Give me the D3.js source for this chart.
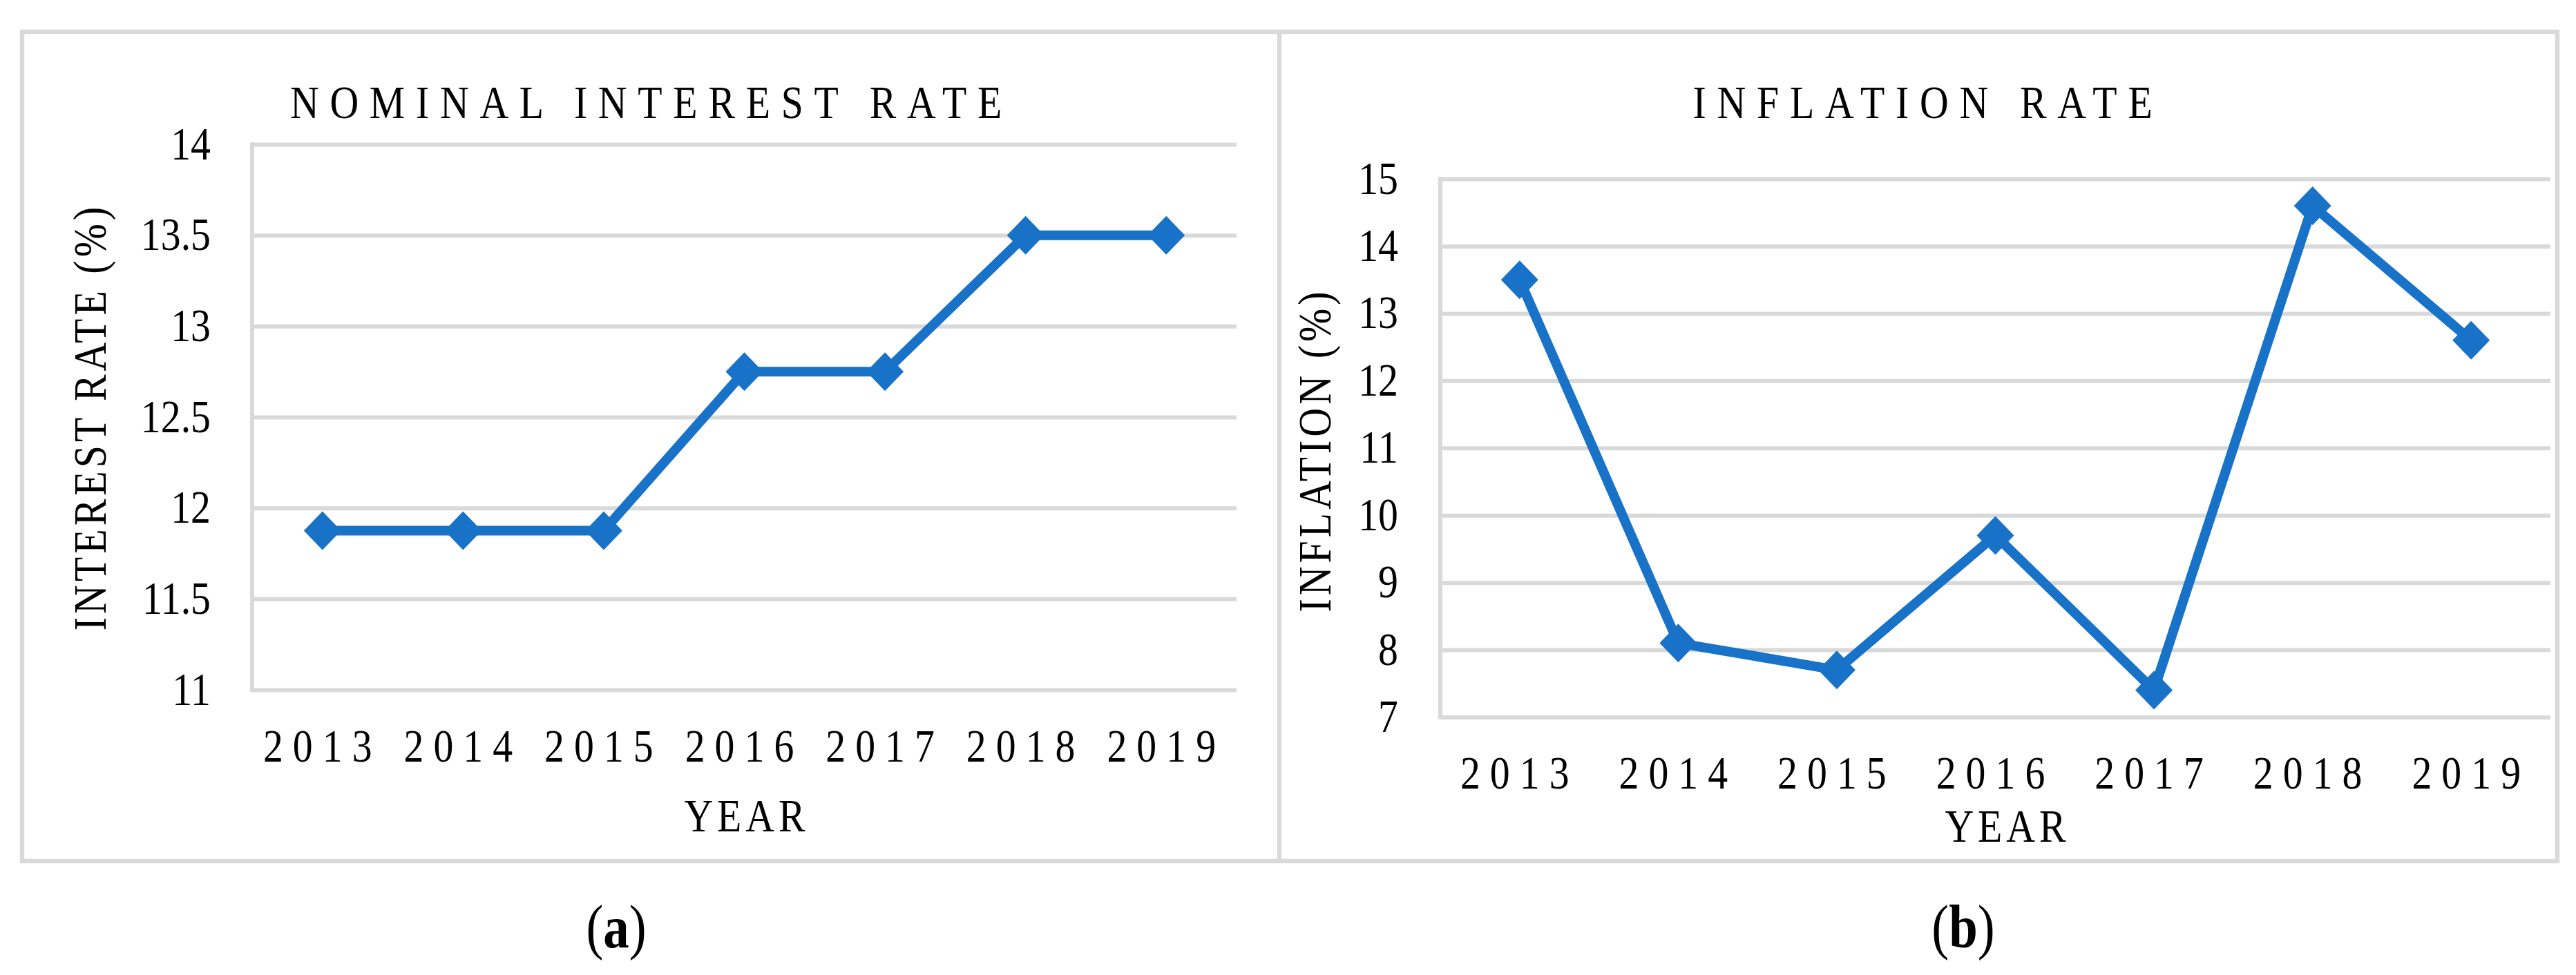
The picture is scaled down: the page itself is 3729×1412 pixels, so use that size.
<!DOCTYPE html>
<html>
<head>
<meta charset="utf-8">
<script src="https://cdn.jsdelivr.net/npm/d3@7"></script>
<style>
  html, body { margin: 0; padding: 0; background: #fff; }
  svg text { font-family: "Liberation Serif", "Times New Roman", serif; fill: #000; }
</style>
</head>
<body>
<div id="chart"></div>
<script>
'use strict';

// data
const years = ["2013", "2014", "2015", "2016", "2017", "2018", "2019"];
const interestRate = [11.875, 11.875, 11.875, 12.75, 12.75, 13.5, 13.5];
const inflationRate = [13.5, 8.1, 7.7, 9.7, 7.4, 14.6, 12.6];
const interestTicks = [11, 11.5, 12, 12.5, 13, 13.5, 14];
const inflationTicks = [7, 8, 9, 10, 11, 12, 13, 14, 15];

const GRID = "#d9d9d9";
const BLUE = "#1873c8";
const SX = 0.85;   // the glyphs in the picture are a bit narrower than Times

class YearLineChart {

    constructor(args) {
        this.svg = args.svg;
        this.categories = args.categories;
        this.values = args.values;
        this.ticks = args.ticks;
        this.box = args.box;
        this.text = args.text;
    }

    draw() {
        const b = this.box, t = this.text;
        this.x = d3.scaleBand().domain(this.categories).range([b.left, b.right]);
        this.y = d3.scaleLinear().domain(d3.extent(this.ticks)).range([b.bottom, b.top]);
        const half = this.x.bandwidth() / 2;

        // gridlines + y tick labels
        const gy = this.svg.append("g")
            .attr("transform", `translate(${b.left},0)`)
            .call(d3.axisLeft(this.y)
                .tickValues(this.ticks)
                .tickSize(-(b.right - b.left))
                .tickPadding(0)
                .tickFormat(d => String(d)));
        gy.select(".domain").remove();
        gy.selectAll(".tick line").attr("stroke", GRID).attr("stroke-width", 6);
        gy.selectAll(".tick text")
            .attr("x", null).attr("dy", null)
            .attr("font-size", 68)
            .attr("text-anchor", "end")
            .attr("transform", `translate(${-t.tickGap},21) scale(${SX},1)`);

        // vertical axis line
        this.svg.append("line")
            .attr("x1", b.left).attr("x2", b.left)
            .attr("y1", b.top - 3).attr("y2", b.bottom + 3)
            .attr("stroke", GRID).attr("stroke-width", 6);

        // year labels
        const gx = this.svg.append("g")
            .attr("transform", `translate(0,${b.bottom})`)
            .call(d3.axisBottom(this.x).tickSize(0));
        gx.select(".domain").remove();
        gx.selectAll(".tick text")
            .attr("y", null).attr("dy", null)
            .attr("font-size", 68)
            .attr("letter-spacing", 16.5)
            .attr("transform", `translate(0,${t.yearDrop}) scale(${SX},1)`);

        // line and markers
        const line = d3.line()
            .x((d, i) => this.x(this.categories[i]) + half)
            .y(d => this.y(d));

        this.svg.append("path")
            .datum(this.values)
            .attr("fill", "none")
            .attr("stroke", BLUE)
            .attr("stroke-width", 14)
            .attr("stroke-linejoin", "round")
            .attr("d", line);

        this.svg.append("g")
            .selectAll("path")
            .data(this.values)
            .join("path")
            .attr("fill", BLUE)
            .attr("d", "M0,-28L27,0L0,28L-27,0Z")
            .attr("transform", (d, i) => `translate(${this.x(this.categories[i]) + half},${this.y(d)})`);

        // titles
        this.label(t.title, t.titleX, 171, 68, 18.5, 0);
        this.label(t.yTitle, t.yTitleX, t.yTitleY, 68, 6, -90);
        this.label("YEAR", t.xTitleX, t.xTitleY, 68, 7, 0);
    }

    label(str, x, y, size, spacing, rot) {
        this.svg.append("text")
            .attr("text-anchor", "middle")
            .attr("font-size", size)
            .attr("letter-spacing", spacing)
            .attr("transform", `translate(${x},${y}) rotate(${rot}) scale(${SX},1)`)
            .text(str);
    }
}

const svg = d3.select("#chart").append("svg")
    .attr("width", 3729)
    .attr("height", 1412);

svg.append("rect").attr("width", 3729).attr("height", 1412).attr("fill", "#fff");

// outer frame and divider
svg.append("rect")
    .attr("x", 32).attr("y", 46)
    .attr("width", 3670).attr("height", 1201)
    .attr("fill", "none").attr("stroke", GRID).attr("stroke-width", 6.5);
svg.append("line")
    .attr("x1", 1852).attr("x2", 1852).attr("y1", 46).attr("y2", 1247)
    .attr("stroke", GRID).attr("stroke-width", 6.5);

new YearLineChart({
    svg: svg,
    categories: years,
    values: interestRate,
    ticks: interestTicks,
    box: {left: 365, right: 1790, top: 209, bottom: 999},
    text: {
        title: "NOMINAL INTEREST RATE", titleX: 943,
        yTitle: "INTEREST RATE (%)", yTitleX: 153, yTitleY: 604,
        xTitleX: 1081, xTitleY: 1204,
        tickGap: 60, yearDrop: 104
    }
}).draw();

new YearLineChart({
    svg: svg,
    categories: years,
    values: inflationRate,
    ticks: inflationTicks,
    box: {left: 2085, right: 3692, top: 259, bottom: 1038.5},
    text: {
        title: "INFLATION RATE", titleX: 2791,
        yTitle: "INFLATION (%)", yTitleX: 1926, yTitleY: 652,
        xTitleX: 2906, xTitleY: 1219,
        tickGap: 61, yearDrop: 103.5
    }
}).draw();

// panel captions
[["a", 892], ["b", 2842]].forEach(([letter, cx]) => {
    const cap = svg.append("text")
        .attr("text-anchor", "middle")
        .attr("font-size", 88)
        .attr("transform", `translate(${cx},1372) scale(${SX},1)`);
    cap.append("tspan").text("(");
    cap.append("tspan").attr("font-weight", "bold").text(letter);
    cap.append("tspan").text(")");
});
</script>
</body>
</html>
